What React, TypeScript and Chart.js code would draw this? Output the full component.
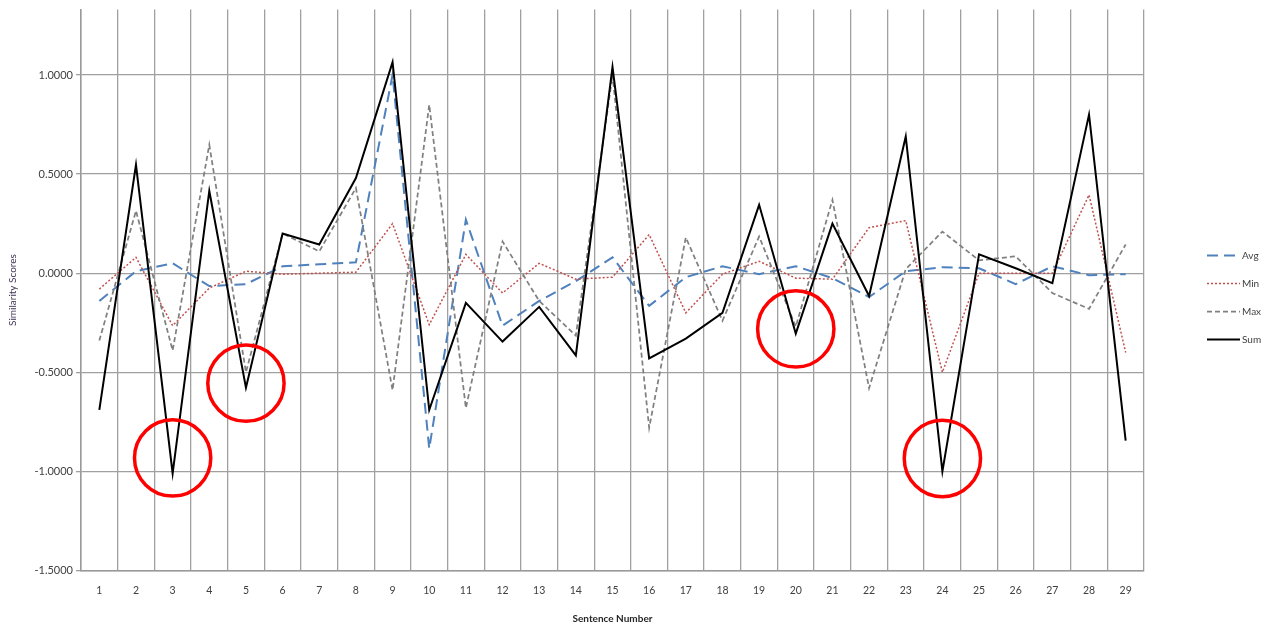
import { useEffect, useRef } from 'react';
import { Chart, registerables } from 'chart.js';

Chart.register(...registerables);

const sentences = ['1','2','3','4','5','6','7','8','9','10','11','12','13','14','15','16','17','18','19','20','21','22','23','24','25','26','27','28','29'];

const avgScores = [-0.14, 0.01, 0.05, -0.065, -0.055, 0.035, 0.045, 0.055, 1.0, -0.885, 0.27, -0.265, -0.14, -0.04, 0.08, -0.165, -0.02, 0.035, -0.005, 0.035, -0.025, -0.12, 0.01, 0.03, 0.025, -0.055, 0.035, -0.01, -0.005];
const minScores = [-0.08, 0.08, -0.265, -0.075, 0.01, -0.005, 0.0, 0.005, 0.25, -0.26, 0.095, -0.1, 0.05, -0.03, -0.02, 0.195, -0.2, -0.005, 0.06, -0.025, -0.03, 0.23, 0.265, -0.5, 0.0, 0.0, 0.0, 0.395, -0.4];
const maxScores = [-0.34, 0.315, -0.39, 0.648, -0.5, 0.2, 0.11, 0.43, -0.59, 0.85, -0.68, 0.16, -0.14, -0.315, 1.0, -0.78, 0.18, -0.24, 0.185, -0.27, 0.37, -0.58, 0.02, 0.21, 0.065, 0.085, -0.1, -0.18, 0.145];
const sumScores = [-0.69, 0.547, -1.01, 0.415, -0.578, 0.2, 0.145, 0.48, 1.065, -0.69, -0.15, -0.345, -0.17, -0.415, 1.04, -0.43, -0.33, -0.2, 0.345, -0.305, 0.25, -0.115, 0.69, -1.0, 0.095, 0.025, -0.05, 0.8, -0.845];

const seriesNames = ['Avg', 'Min', 'Max', 'Sum'];

// red circle annotations (sentence, centre value)
const annotatedSentences = ['3', '5', '20', '24'];
const annotationCenters = [-0.932, -0.555, -0.281, -0.935];
const annotationRadius = 0.1925;

const yMin = -1.5;
const yMax = 1.33;
const yStep = 0.5;

const annotationPlugin = {
  id: 'annotCircles',
  afterDatasetsDraw(chart: any) {
    const { ctx, scales } = chart;
    const x = scales.x;
    const y = scales.y;
    const r = Math.abs(y.getPixelForValue(0) - y.getPixelForValue(annotationRadius));
    ctx.save();
    ctx.strokeStyle = '#ff0000';
    ctx.lineWidth = 3.5;
    ctx.setLineDash([]);
    annotatedSentences.forEach((s, i) => {
      const cx = x.getPixelForValue(sentences.indexOf(s));
      const cy = y.getPixelForValue(annotationCenters[i]);
      ctx.beginPath();
      ctx.arc(cx, cy, r, 0, Math.PI * 2);
      ctx.stroke();
    });
    ctx.restore();
  },
};

const legendPlugin = {
  id: 'sideLegend',
  afterDraw(chart: any) {
    const { ctx, chartArea } = chart;
    const datasets = chart.data.datasets;
    const x0 = chartArea.right + 63;
    const lineLen = 33;
    const gap = 28;
    const cy = (chartArea.top + chartArea.bottom) / 2 + 7;
    ctx.save();
    ctx.font = '10px Lato';
    ctx.textBaseline = 'middle';
    ctx.textAlign = 'left';
    datasets.forEach((ds: any, i: number) => {
      const yy = Math.round(cy + (i - (datasets.length - 1) / 2) * gap) + 0.5;
      ctx.setLineDash(ds.borderDash || []);
      ctx.lineWidth = ds.borderWidth;
      ctx.strokeStyle = ds.borderColor;
      ctx.beginPath();
      ctx.moveTo(x0, yy);
      ctx.lineTo(x0 + lineLen, yy);
      ctx.stroke();
      ctx.setLineDash([]);
      ctx.fillStyle = '#404040';
      ctx.fillText(ds.label, x0 + lineLen + 2, yy);
    });
    ctx.restore();
  },
};

export default function App() {
  const canvasRef = useRef<HTMLCanvasElement>(null);

  useEffect(() => {
    if (!canvasRef.current) return;
    const chart = new Chart(canvasRef.current, {
      type: 'line',
      data: {
        labels: sentences,
        datasets: [
          {
            label: seriesNames[0],
            data: avgScores,
            borderColor: '#4f81bd',
            borderWidth: 2,
            borderDash: [11, 6],
            pointRadius: 0,
            tension: 0,
            fill: false,
            order: 3,
          },
          {
            label: seriesNames[1],
            data: minScores,
            borderColor: '#c0504d',
            borderWidth: 1.5,
            borderDash: [2, 2],
            pointRadius: 0,
            tension: 0,
            fill: false,
            order: 2,
          },
          {
            label: seriesNames[2],
            data: maxScores,
            borderColor: '#808080',
            borderWidth: 1.75,
            borderDash: [5, 3],
            pointRadius: 0,
            tension: 0,
            fill: false,
            order: 1,
          },
          {
            label: seriesNames[3],
            data: sumScores,
            borderColor: '#000000',
            borderWidth: 2,
            pointRadius: 0,
            tension: 0,
            fill: false,
            order: 0,
          },
        ],
      },
      options: {
        animation: false,
        responsive: true,
        maintainAspectRatio: false,
        layout: { padding: { top: 8, right: 121, left: 0, bottom: 0 } },
        plugins: {
          legend: { display: false },
          tooltip: { enabled: false },
        },
        scales: {
          x: {
            offset: true,
            grid: { offset: true, color: '#a0a0a0', lineWidth: 1.3, drawTicks: false },
            border: { color: '#999999', width: 1.5 },
            ticks: {
              autoSkip: false,
              maxRotation: 0,
              padding: 14,
              color: '#404040',
              font: { family: 'Lato', size: 10.5 },
            },
            title: {
              display: true,
              text: 'Sentence Number',
              color: '#262626',
              font: { family: 'Lato', size: 10, weight: 'bold' },
              padding: { top: 0, bottom: 1 },
            },
            afterFit: (scale: any) => {
              scale.height = 55.5;
            },
          },
          y: {
            min: yMin,
            max: yMax,
            grid: { color: '#a0a0a0', lineWidth: 1.3, tickLength: 5 },
            border: { color: '#999999', width: 1.5 },
            ticks: {
              stepSize: yStep,
              includeBounds: false,
              padding: 3,
              color: '#404040',
              font: { family: 'Lato', size: 11 },
              callback: (v: any) => Number(v).toFixed(4),
            },
            title: {
              display: true,
              text: 'Similarity Scores',
              color: '#403152',
              font: { family: 'Lato', size: 10 },
              padding: { top: 7, bottom: 0 },
            },
            afterFit: (scale: any) => {
              scale.width = 81;
            },
          },
        },
      },
      plugins: [annotationPlugin, legendPlugin],
    });
    return () => chart.destroy();
  }, []);

  return (
    <div style={{ position: 'absolute', left: 0, top: 0, width: '1265px', height: '626px', background: '#ffffff' }}>
      <canvas ref={canvasRef} />
    </div>
  );
}
